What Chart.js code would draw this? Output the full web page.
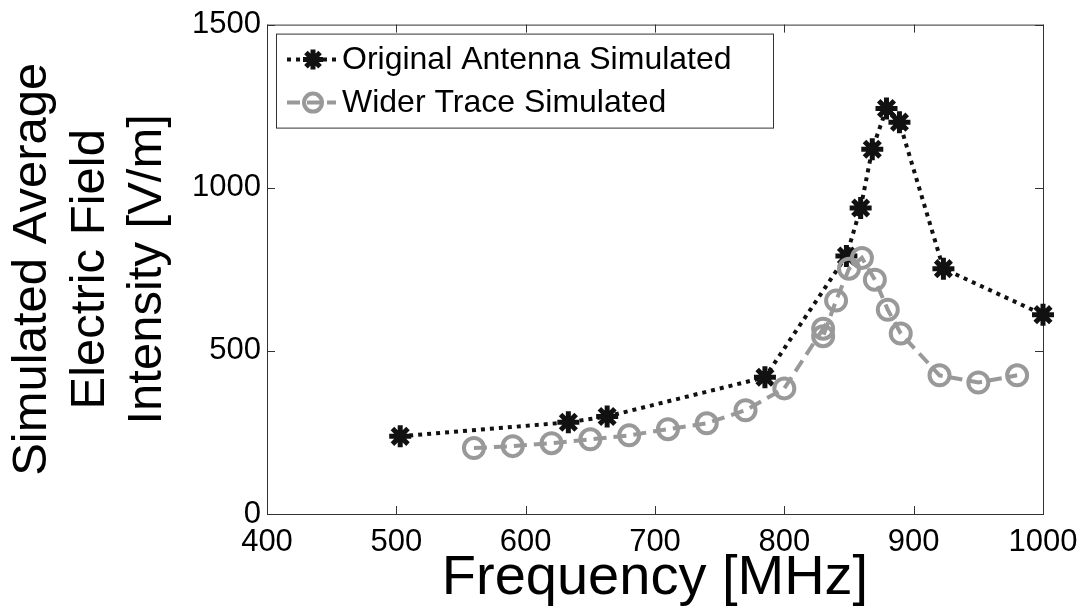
<!DOCTYPE html>
<html>
<head>
<meta charset="utf-8">
<script src="https://cdn.jsdelivr.net/npm/chart.js@4/dist/chart.umd.min.js"></script>
<style>
  html, body { margin: 0; padding: 0; background: #fff; }
  #wrap { width: 1088px; height: 614px; }
</style>
</head>
<body>
<div id="wrap"><canvas id="chart" width="1088" height="614"></canvas></div>
<script>
// values
const freqOriginal = [503, 633, 663, 785, 848, 859, 868, 879, 889, 923, 1000]
const fieldOriginal = [238, 281, 299, 419, 791, 938, 1118, 1243, 1201, 752, 611]

const freqWider = [560, 590, 620, 650, 680, 710, 740, 770, 800, 830, 830, 840, 850, 860, 870, 880, 890, 920, 950, 980]
const fieldWider = [202, 208, 217, 229, 241, 260, 278, 318, 385, 568, 545, 654, 752, 785, 718, 626, 553, 425, 403, 425]

const xTicks = [400, 500, 600, 700, 800, 900, 1000]
const yTicks = [0, 500, 1000, 1500]

const labelOriginal = "Original Antenna Simulated"
const labelWider = "Wider Trace Simulated"
const xTitle = "Frequency [MHz]"
const yTitle = ["Simulated Average", "Electric Field", "Intensity [V/m]"]

const FONT = "'Liberation Sans', Arial, sans-serif"

function toPoints(xs, ys) {
    return xs.map((x, i) => ({ x: x, y: ys[i] }))
}

// box round the plot with inward tick marks, like matlab
const frame = {
    id: 'frame',
    beforeDatasetsDraw(chart) {
        let ctx = chart.ctx
        let a = chart.chartArea
        let sx = chart.scales.x
        let sy = chart.scales.y
        let len = 8
        ctx.save()
        ctx.strokeStyle = '#333'
        ctx.lineWidth = 1
        ctx.strokeRect(a.left + 0.5, a.top + 0.5, a.right - a.left, a.bottom - a.top)
        ctx.beginPath()
        xTicks.forEach(v => {
            let px = Math.round(sx.getPixelForValue(v)) + 0.5
            ctx.moveTo(px, a.bottom); ctx.lineTo(px, a.bottom - len)
            ctx.moveTo(px, a.top); ctx.lineTo(px, a.top + len)
        })
        yTicks.forEach(v => {
            let py = Math.round(sy.getPixelForValue(v)) + 0.5
            ctx.moveTo(a.left, py); ctx.lineTo(a.left + len, py)
            ctx.moveTo(a.right, py); ctx.lineTo(a.right - len, py)
        })
        ctx.stroke()
        ctx.restore()
    }
}

// legend inside the top left corner
const legendBox = {
    id: 'legendBox',
    afterDraw(chart) {
        let ctx = chart.ctx
        let a = chart.chartArea
        let x0 = a.left + 9
        let y0 = a.top + 9
        ctx.save()
        ctx.fillStyle = '#fff'
        ctx.fillRect(x0, y0, 497, 94)
        ctx.strokeStyle = '#333'
        ctx.lineWidth = 1
        ctx.strokeRect(x0 + 0.5, y0 + 0.5, 497, 94)

        let rows = [chart.data.datasets[0], chart.data.datasets[1]]
        rows.forEach((ds, i) => {
            let cy = y0 + 26 + i * 43
            ctx.save()
            ctx.strokeStyle = ds.borderColor
            ctx.lineWidth = ds.borderWidth
            ctx.setLineDash(ds.borderDash)
            ctx.beginPath()
            ctx.moveTo(x0 + 11, cy)
            ctx.lineTo(x0 + 60, cy)
            ctx.stroke()
            ctx.restore()
            ctx.save()
            ctx.strokeStyle = ds.pointBorderColor
            ctx.fillStyle = ds.pointBackgroundColor
            ctx.lineWidth = ds.pointBorderWidth
            Chart.helpers.drawPoint(ctx, { pointStyle: ds.pointStyle, radius: ds.pointRadius - 1, rotation: 0, borderWidth: ds.pointBorderWidth }, x0 + 37, cy)
            ctx.restore()
            ctx.fillStyle = '#000'
            ctx.font = '32px ' + FONT
            ctx.textBaseline = 'middle'
            ctx.fillText(ds.label, x0 + 66, cy + 1)
        })
        ctx.restore()
    }
}

const ctx = document.getElementById('chart')
const chart = new Chart(ctx, {
    type: 'line',
    data: {
        datasets: [{
            label: labelOriginal,
            data: toPoints(freqOriginal, fieldOriginal),
            borderColor: '#111',
            borderWidth: 4,
            borderDash: [4, 5],
            borderCapStyle: 'butt',
            pointStyle: 'star',
            pointRadius: 11,
            pointBorderWidth: 5,
            pointBorderColor: '#111',
            pointBackgroundColor: '#111',
            tension: 0,
            fill: false,
            clip: false,
            order: 2
        },
        {
            label: labelWider,
            data: toPoints(freqWider, fieldWider),
            borderColor: '#999999',
            borderWidth: 4,
            borderDash: [13, 7],
            borderCapStyle: 'butt',
            pointStyle: 'circle',
            pointRadius: 10,
            pointBorderWidth: 4,
            pointBorderColor: '#999999',
            pointBackgroundColor: 'rgba(0,0,0,0)',
            tension: 0,
            fill: false,
            clip: false,
            order: 1
        }]
    },
    options: {
        responsive: false,
        animation: false,
        devicePixelRatio: 1,
        layout: { padding: { top: 23, right: 45, left: 0, bottom: 0 } },
        plugins: {
            legend: { display: false },
            tooltip: { enabled: false }
        },
        scales: {
            x: {
                type: 'linear',
                min: 400,
                max: 1000,
                afterBuildTicks: scale => { scale.ticks = xTicks.map(v => ({ value: v })) },
                afterFit: scale => { scale.height = 100 },
                grid: { display: false, drawTicks: false },
                border: { display: false },
                ticks: {
                    color: '#000',
                    padding: 10,
                    maxRotation: 0,
                    autoSkip: false,
                    font: { family: FONT, size: 31 },
                    callback: value => String(value)
                },
                title: {
                    display: true,
                    text: xTitle,
                    color: '#000',
                    padding: { top: 0, bottom: 2 },
                    font: { family: FONT, size: 56, lineHeight: 1.2 }
                }
            },
            y: {
                type: 'linear',
                min: 0,
                max: 1500,
                afterBuildTicks: scale => { scale.ticks = yTicks.map(v => ({ value: v })) },
                afterFit: scale => { scale.width = 267 },
                grid: { display: false, drawTicks: false },
                border: { display: false },
                ticks: {
                    color: '#000',
                    padding: 6,
                    font: { family: FONT, size: 31 },
                    callback: value => String(value)
                },
                title: {
                    display: true,
                    text: yTitle,
                    color: '#000',
                    padding: { top: 4, bottom: 0 },
                    font: { family: FONT, size: 49, lineHeight: 1.17 }
                }
            }
        }
    },
    plugins: [frame, legendBox]
})
</script>
</body>
</html>
